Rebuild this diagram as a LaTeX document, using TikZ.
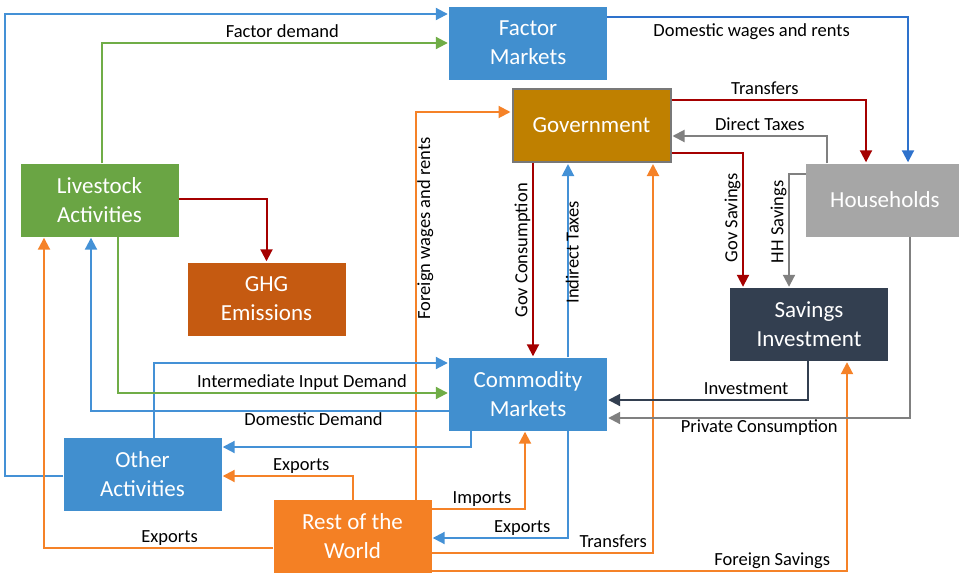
\documentclass[tikz,border=0pt]{standalone}
\usepackage{fontspec}
\setmainfont{Carlito}
\usetikzlibrary{arrows.meta}
\usepackage{xcolor}
\definecolor{boxblue}{RGB}{65,143,207}
\definecolor{lineblue}{RGB}{68,145,214}
\definecolor{wageblue}{RGB}{46,114,204}
\definecolor{livegreen}{RGB}{106,165,68}
\definecolor{linegreen}{RGB}{112,173,71}
\definecolor{govgold}{RGB}{191,128,0}
\definecolor{govedge}{RGB}{120,120,120}
\definecolor{hhgray}{RGB}{166,166,166}
\definecolor{linegray}{RGB}{128,128,128}
\definecolor{ghgred}{RGB}{197,90,17}
\definecolor{savnavy}{RGB}{51,63,80}
\definecolor{roworange}{RGB}{244,128,36}
\definecolor{lineorange}{RGB}{245,130,40}
\definecolor{darkred}{RGB}{165,0,0}

\begin{document}
\begin{tikzpicture}[
  x=1pt, y=-1pt,
  box/.style={minimum width=158pt, minimum height=73pt, inner sep=0pt, align=center, text=white, font=\fontsize{23}{29}\selectfont},
  lbl/.style={font=\fontsize{18.5}{22}\selectfont, text=black, inner sep=2.5pt, text height=0.7em, text depth=0.22em},
  arr/.style={-{Triangle[length=12pt,width=12pt]}, line width=2pt, shorten >=1pt},
]
\useasboundingbox (0,0) rectangle (959,573);

% Markets
\node[box, fill=boxblue] (fm)  at (528,43)  {Factor\\Markets};
\node[box, fill=boxblue] (com) at (528,394) {Commodity\\Markets};

% Institutions
\node[box, fill=govgold, draw=govedge, line width=2pt] (gov) at (591.5,125.5) {Government};
\node[box, fill=hhgray]  (hh)  at (885,200)   {Households};
\node[box, fill=savnavy] (sav) at (809,324.5) {Savings\\Investment};
\node[box, fill=roworange] (row) at (352.5,536.5) {Rest of the\\World};

% Activities
\node[box, fill=livegreen] (live) at (99.5,200)   {Livestock\\Activities};
\node[box, fill=ghgred]    (ghg)  at (266.5,299)  {GHG\\Emissions};
\node[box, fill=boxblue]   (oth)  at (142.5,474.5) {Other\\Activities};

% Factor flows
\draw[arr, lineblue] ([yshift=-1.5]oth.west) -- ++(-58,0) |- ([yshift=29]fm.west);
\draw[arr, linegreen] ([xshift=2.5]live.north) |- node[lbl, pos=0.76, above]{Factor demand} (fm.west);
\draw[arr, wageblue] ([yshift=26]fm.east) -| node[lbl, pos=0.24, below=9pt]{Domestic wages and rents} ([xshift=23]hh.north);

% Government and households
\draw[arr, darkred] ([yshift=25.5]gov.east) -| node[lbl, pos=0.24, above]{Transfers} ([xshift=-19]hh.north);
\draw[arr, linegray] ([xshift=-58]hh.north) |- node[lbl, pos=0.716, above]{Direct Taxes} ([yshift=-10.5]gov.east);
\draw[arr, darkred] ([yshift=-27.5]gov.east) -| node[lbl, pos=0.74, rotate=90, anchor=south]{Gov Savings} ([xshift=-66]sav.north);
\draw[arr, linegray] ([yshift=26]hh.west) -| node[lbl, pos=0.71, rotate=90, anchor=south]{HH Savings} ([xshift=-20]sav.north);
\draw[arr, darkred] ([xshift=-58.5]gov.south) -- node[lbl, pos=0.45, rotate=90, anchor=south]{Gov Consumption} ([xshift=5]com.north);
\draw[arr, lineblue] ([xshift=40]com.north) -- node[lbl, pos=0.54, rotate=90, anchor=north]{Indirect Taxes} ([xshift=-23.5]gov.south);

% Emissions
\draw[arr, darkred] ([yshift=1]live.east) -| (ghg.north);

% Rest of the world
\draw[arr, lineorange] ([xshift=63.5]row.north) |- node[lbl, pos=0.35, rotate=90, anchor=north, inner sep=6pt]{Foreign wages and rents} ([yshift=13.5]gov.west);
\draw[arr, lineorange] ([yshift=-16.5]row.east) -| node[lbl, pos=0.41, above]{Transfers} ([xshift=61.5]gov.south);
\draw[arr, lineorange] ([yshift=-34.5]row.east) -| node[lbl, pos=0.41, above]{Foreign Savings} ([xshift=38]sav.south);
\draw[arr, lineorange] ([yshift=27.5]row.east) -| node[lbl, pos=0.27, above]{Imports} ([xshift=-3]com.south);
\draw[arr, lineblue] ([xshift=40]com.south) |- node[lbl, pos=0.668, above]{Exports} ([yshift=-1.5]row.east);
\draw[arr, lineorange] ([xshift=0.5]row.north) |- node[lbl, pos=0.697, above]{Exports} ([yshift=-1.5]oth.east);
\draw[arr, lineorange] ([yshift=-11.5]row.west) -| node[lbl, pos=0.226, above]{Exports} ([xshift=-55.5]live.south);

% Commodity markets
\draw[arr, savnavy] ([xshift=-1]sav.south) |- node[lbl, pos=0.654, above]{Investment} ([yshift=-6]com.east);
\draw[arr, linegray] ([xshift=25]hh.south) |- node[lbl, pos=0.749, below=4pt]{Private Consumption} ([yshift=-24]com.east);
\draw[arr, lineblue] ([xshift=11.5]oth.north) |- ([yshift=31]com.west);
\draw[arr, linegreen] ([xshift=18.5]live.south) |- node[lbl, pos=0.778, above]{Intermediate Input Demand} ([yshift=1]com.west);
\draw[arr, lineblue] ([yshift=-17]com.west) -| node[lbl, pos=0.189, below=4pt]{Domestic Demand} ([xshift=-8.5]live.south);
\draw[arr, lineblue] ([xshift=-57]com.south) |- ([yshift=27.5]oth.east);

\end{tikzpicture}
\end{document}
